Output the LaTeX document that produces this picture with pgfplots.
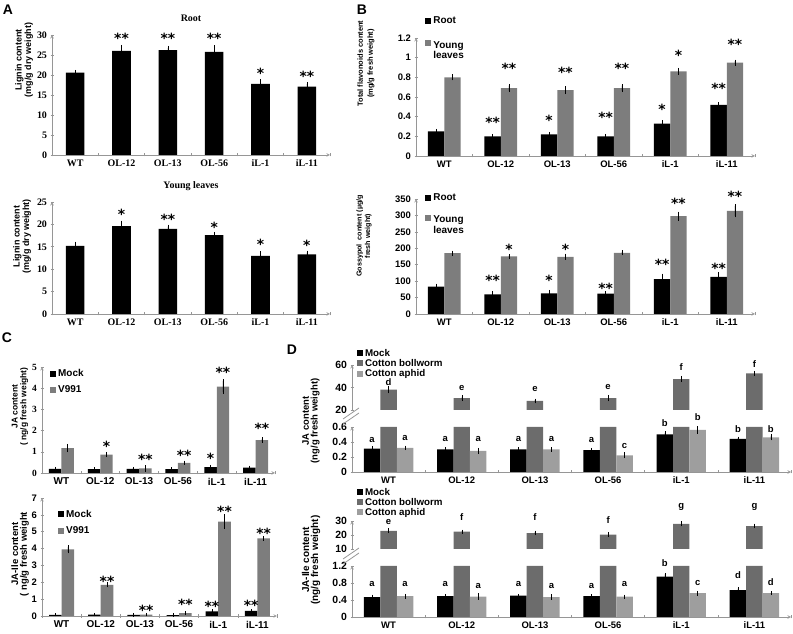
\documentclass[border=0pt]{standalone}
\usepackage{pgfplots}
\pgfplotsset{compat=1.18}
\usepackage{fontspec}
\setmainfont{Liberation Sans}
\newfontfamily\timesf{Liberation Serif}
\newfontfamily\dejaf{DejaVu Sans}
\newcommand\fs[1]{\fontsize{#1}{#1}\selectfont}
\newcommand\starf{\dejaf\bfseries\fontsize{14}{14}\selectfont}
\definecolor{gbar}{RGB}{125,125,125}
\definecolor{dbw}{RGB}{108,108,108}
\definecolor{dap}{RGB}{158,158,158}
\definecolor{axg}{RGB}{150,150,150}
\pgfplotsset{
  common/.style={
    scale only axis, anchor=south west,
    axis line style={draw=axg, line width=0.6pt, -},
    xmin=-0.5, xmax=5.5,
    tick align=outside, major tick length=3bp,
    tick style={draw=axg, line width=0.6pt},
    enlargelimits=false,
    /pgf/number format/assume math mode=true,
    legend image code/.code={\fill[##1] (0bp,-3bp) rectangle (6bp,3bp);},
    legend style={draw=none, fill=none, inner sep=0pt, legend cell align=left,
      column sep=1bp, nodes={inner sep=1bp}},
  },
  excel/.style={common,
    axis x line=bottom, axis y line=left, ymin=0,
    xtick={-0.5,0.5,1.5,2.5,3.5,4.5,5.5}, xticklabels={},
    extra x ticks={0,1,2,3,4,5},
    extra x tick labels={WT,OL-12,OL-13,OL-56,iL-1,iL-11},
    extra x tick style={tick style={draw=none}},
  },
  excelup/.style={common, axis x line=none, axis y line=left},
  overlay/.style={scale only axis, anchor=south west, xmin=-0.5, xmax=5.5,
    enlargelimits=false, hide axis, clip=false},
  bars/.style n args={3}{forget plot, ybar, bar width=#1, bar shift=0pt, fill=#2, draw=none,
     error bars/y dir=both, error bars/y explicit,
     error bars/error bar style={black, line width=0.5pt},
     error bars/error mark options={black, mark size=#3, line width=0.5pt}},
  stars/.style={forget plot, draw=none, mark=none, nodes near coords,
     point meta=explicit symbolic,
     nodes near coords style={anchor=center, font=\starf, inner sep=0pt, yshift=-2bp}},
  letters/.style={forget plot, draw=none, mark=none, nodes near coords,
     point meta=explicit symbolic,
     nodes near coords style={anchor=center, font=\bfseries\fs{9.5}, inner sep=0pt}},
}
\begin{document}
\begin{tikzpicture}
\useasboundingbox (0bp,0bp) rectangle (793bp,634bp);

% ---------------- Panel A top
\begin{axis}[excel, clip=false, at={(52bp,479bp)}, width=278bp, height=120bp,
  ymax=30, ytick={0,5,10,15,20,25,30},
  yticklabel style={font=\timesf\bfseries\fs{10}},
  xticklabel style={font=\timesf\bfseries\fs{10}},
  title={Root}, title style={font=\timesf\bfseries\fs{10}, at={(0.5,1)}, anchor=center, yshift=11bp}]
\addplot[bars={0.4}{black}{2bp}] coordinates {(0,20.6)+-(0,0.2) (1,26.0)+-(0,1.0) (2,26.2)+-(0,0.6) (3,25.8)+-(0,1.1) (4,17.8)+-(0,0.6) (5,17.1)+-(0,0.6)};
\addplot[stars] coordinates {(1,29.7)[**] (2,29.7)[**] (3,29.7)[**] (4,20.9)[*] (5,20.2)[**]};
\end{axis}

% ---------------- Panel A bottom
\begin{axis}[excel, clip=false, at={(52bp,320bp)}, width=278bp, height=112bp,
  ymax=25, ytick={0,5,10,15,20,25},
  yticklabel style={font=\timesf\bfseries\fs{10}},
  xticklabel style={font=\timesf\bfseries\fs{10}},
  title={Young leaves}, title style={font=\timesf\bfseries\fs{10}, at={(0.5,1)}, anchor=center, yshift=10bp}]
\addplot[bars={0.4}{black}{2bp}] coordinates {(0,15.2)+-(0,0.5) (1,19.6)+-(0,0.8) (2,19.0)+-(0,0.5) (3,17.6)+-(0,0.3) (4,13.0)+-(0,0.6) (5,13.3)+-(0,0.4)};
\addplot[stars] coordinates {(1,22.6)[*] (2,21.6)[**] (3,19.9)[*] (4,16.0)[*] (5,15.8)[*]};
\end{axis}

% ---------------- Panel B top
\begin{axis}[excel, clip=false, at={(416bp,478bp)}, width=339bp, height=118bp,
  ymax=1.2, ytick={0,0.2,0.4,0.6,0.8,1,1.2},
  yticklabel style={font=\bfseries\fs{9.5}},
  xticklabel style={font=\bfseries\fs{9.5}},
  legend style={at={(0.027,1.19)}, anchor=north west, font=\bfseries\fs{10}, row sep=14bp}]
\addplot[bars={0.29}{black}{1.5bp}] coordinates {(-0.145,0.25)+-(0,0.01) (0.855,0.20)+-(0,0.01) (1.855,0.22)+-(0,0.01) (2.855,0.20)+-(0,0.01) (3.855,0.33)+-(0,0.02) (4.855,0.52)+-(0,0.01)};
\addplot[bars={0.29}{gbar}{1.5bp}] coordinates {(0.145,0.80)+-(0,0.015) (1.145,0.69)+-(0,0.025) (2.145,0.67)+-(0,0.025) (3.145,0.69)+-(0,0.025) (4.145,0.86)+-(0,0.02) (5.145,0.95)+-(0,0.015)};
\addplot[stars] coordinates {(0.855,0.366)[**] (1.855,0.387)[*] (2.855,0.41)[**] (3.855,0.50)[*] (4.855,0.705)[**]
  (1.145,0.916)[**] (2.145,0.868)[**] (3.145,0.908)[**] (4.145,1.045)[*] (5.145,1.16)[**]};
\addlegendimage{fill=black, draw=none}\addlegendentry{Root}
\addlegendimage{fill=gbar, draw=none, yshift=5bp}\addlegendentry{\begin{tabular}{@{}l@{}}Young\\leaves\end{tabular}}
\end{axis}

% ---------------- Panel B bottom
\begin{axis}[excel, clip=false, at={(416bp,320bp)}, width=339bp, height=115bp,
  ymax=350, ytick={0,50,100,150,200,250,300,350},
  yticklabel style={font=\bfseries\fs{9.5}},
  xticklabel style={font=\bfseries\fs{9.5}},
  legend style={at={(0.027,1.057)}, anchor=north west, font=\bfseries\fs{10}, row sep=12bp}]
\addplot[bars={0.29}{black}{1.5bp}] coordinates {(-0.145,83)+-(0,5) (0.855,60)+-(0,4) (1.855,63)+-(0,6) (2.855,62)+-(0,2) (3.855,106)+-(0,12) (4.855,113)+-(0,10)};
\addplot[bars={0.29}{gbar}{1.5bp}] coordinates {(0.145,185)+-(0,3) (1.145,175)+-(0,3) (2.145,174)+-(0,5) (3.145,186)+-(0,3) (4.145,298)+-(0,9) (5.145,314)+-(0,15)};
\addplot[stars] coordinates {(0.855,108.6)[**] (1.855,108.6)[*] (2.855,85.2)[**] (3.855,157)[**] (4.855,144)[**]
  (1.145,201.8)[*] (2.145,201.8)[*] (4.145,341.8)[**] (5.145,365)[**]};
\addlegendimage{fill=black, draw=none}\addlegendentry{Root}
\addlegendimage{fill=gbar, draw=none, yshift=5bp}\addlegendentry{\begin{tabular}{@{}l@{}}Young\\leaves\end{tabular}}
\end{axis}

% ---------------- Panel C top
\begin{axis}[excel, clip=false, at={(42bp,161bp)}, width=233bp, height=106bp,
  ymax=5, ytick={0,1,2,3,4,5},
  yticklabel style={font=\timesf\bfseries\fs{9.5}},
  xticklabel style={font=\bfseries\fs{10}},
  legend style={at={(0.034,0.99)}, anchor=north west, font=\bfseries\fs{10}, row sep=6bp}]
\addplot[bars={0.32}{black}{1.5bp}] coordinates {(-0.16,0.20)+-(0,0.02) (0.84,0.18)+-(0,0.02) (1.84,0.20)+-(0,0.02) (2.84,0.18)+-(0,0.02) (3.84,0.28)+-(0,0.03) (4.84,0.25)+-(0,0.03)};
\addplot[bars={0.32}{gbar}{1.5bp}] coordinates {(0.16,1.17)+-(0,0.13) (1.16,0.87)+-(0,0.05) (2.16,0.22)+-(0,0.08) (3.16,0.48)+-(0,0.03) (4.16,4.08)+-(0,0.27) (5.16,1.55)+-(0,0.06)};
\addplot[stars] coordinates {(1.16,1.36)[*] (2.16,0.73)[**] (3.16,0.94)[**] (3.84,0.81)[*] (4.16,4.83)[**] (5.16,2.18)[**]};
\addlegendimage{fill=black, draw=none}\addlegendentry{Mock}
\addlegendimage{fill=gbar, draw=none}\addlegendentry{V991}
\end{axis}

% ---------------- Panel C bottom
\begin{axis}[excel, clip=false, at={(42bp,18bp)}, width=235bp, height=118bp,
  ymax=7, ytick={0,1,2,3,4,5,6,7},
  yticklabel style={font=\bfseries\fs{9.5}},
  xticklabel style={font=\bfseries\fs{10}},
  legend style={at={(0.068,0.91)}, anchor=north west, font=\bfseries\fs{10}, row sep=6bp}]
\addplot[bars={0.32}{black}{1.5bp}] coordinates {(-0.16,0.07)+-(0,0.01) (0.84,0.08)+-(0,0.01) (1.84,0.06)+-(0,0.01) (2.84,0.05)+-(0,0.01) (3.84,0.28)+-(0,0.02) (4.84,0.30)+-(0,0.02)};
\addplot[bars={0.32}{gbar}{1.5bp}] coordinates {(0.16,3.95)+-(0,0.15) (1.16,1.85)+-(0,0.07) (2.16,0.08)+-(0,0.02) (3.16,0.17)+-(0,0.03) (4.16,5.6)+-(0,0.35) (5.16,4.6)+-(0,0.05)};
\addplot[stars] coordinates {(1.16,2.15)[**] (2.16,0.48)[**] (3.16,0.83)[**] (3.84,0.72)[**] (4.16,6.3)[**] (4.84,0.76)[**] (5.16,5.03)[**]};
\addlegendimage{fill=black, draw=none}\addlegendentry{Mock}
\addlegendimage{fill=gbar, draw=none}\addlegendentry{V991}
\end{axis}

% ---------------- Panel D top, lower part
\begin{axis}[excel, clip=false, at={(352bp,162bp)}, width=439bp, height=45bp,
  ymax=0.6, ytick={0,0.2,0.4,0.6},
  yticklabel style={font=\bfseries\fs{10.5}},
  xticklabel style={font=\bfseries\fs{9.5}}]
\addplot[bars={0.225}{black}{1.5bp}] coordinates {(-0.225,0.31)+-(0,0.01) (0.775,0.30)+-(0,0.01) (1.775,0.30)+-(0,0.01) (2.775,0.29)+-(0,0.01) (3.775,0.50)+-(0,0.02) (4.775,0.44)+-(0,0.01)};
\addplot[forget plot, ybar, bar width=0.225, bar shift=0pt, fill=dbw, draw=none, restrict y to domain*=0:0.6] coordinates {(0,38) (1,30.5) (2,28) (3,30.5) (4,47.5) (5,52.5)};
\addplot[bars={0.225}{dap}{1.5bp}] coordinates {(0.225,0.32)+-(0,0.01) (1.225,0.28)+-(0,0.02) (2.225,0.30)+-(0,0.01) (3.225,0.22)+-(0,0.02) (4.225,0.56)+-(0,0.03) (5.225,0.46)+-(0,0.02)};
\addplot[letters] coordinates {(-0.225,0.427)[a] (0.775,0.443)[a] (1.775,0.443)[a] (2.775,0.42)[a] (3.775,0.653)[b] (4.775,0.573)[b]
  (0.225,0.457)[a] (1.225,0.443)[a] (2.225,0.443)[a] (3.225,0.343)[c] (4.225,0.733)[b] (5.225,0.573)[b]};
\end{axis}

% ---------------- Panel D top, upper part
\begin{axis}[excelup, at={(352bp,224bp)}, width=439bp, height=45bp,
  ymin=20, ymax=60, ytick={20,40,60},
  yticklabel style={font=\bfseries\fs{10.5}},
  legend style={at={(0.011,1.38)}, anchor=north west, font=\bfseries\fs{9.8}, row sep=-0.5bp}]
\addplot[bars={0.225}{dbw}{1.5bp}] coordinates {(0,38)+-(0,1.8) (1,30.5)+-(0,1.2) (2,28)+-(0,0.8) (3,30.5)+-(0,1.5) (4,47.5)+-(0,1.5) (5,52.5)+-(0,1)};
\addlegendimage{fill=black, draw=none}\addlegendentry{Mock}
\addlegendimage{fill=dbw, draw=none}\addlegendentry{Cotton bollworm}
\addlegendimage{fill=dap, draw=none}\addlegendentry{Cotton aphid}
\end{axis}
\begin{axis}[overlay, at={(352bp,224bp)}, width=439bp, height=45bp, ymin=20, ymax=60]
\addplot[letters] coordinates {(0,45.2)[d] (1,39.7)[e] (2,38.4)[e] (3,40.4)[e] (4,58.2)[f] (5,61.2)[f]};
\end{axis}

% ---------------- Panel D bottom, lower part
\begin{axis}[excel, clip=false, at={(352bp,17bp)}, width=439bp, height=51bp,
  ymax=1.2, ytick={0,0.4,0.8,1.2},
  yticklabel style={font=\bfseries\fs{10.5}},
  xticklabel style={font=\bfseries\fs{9.5}}]
\addplot[bars={0.225}{black}{1.5bp}] coordinates {(-0.225,0.47)+-(0,0.02) (0.775,0.49)+-(0,0.01) (1.775,0.50)+-(0,0.01) (2.775,0.49)+-(0,0.01) (3.775,0.95)+-(0,0.05) (4.775,0.63)+-(0,0.04)};
\addplot[forget plot, ybar, bar width=0.225, bar shift=0pt, fill=dbw, draw=none, restrict y to domain*=0:1.2] coordinates {(0,23) (1,22.4) (2,21.4) (3,20.2) (4,27.9) (5,26.4)};
\addplot[bars={0.225}{dap}{1.5bp}] coordinates {(0.225,0.49)+-(0,0.02) (1.225,0.48)+-(0,0.04) (2.225,0.47)+-(0,0.03) (3.225,0.48)+-(0,0.01) (4.225,0.56)+-(0,0.02) (5.225,0.56)+-(0,0.01)};
\addplot[letters] coordinates {(-0.225,0.77)[a] (0.775,0.78)[a] (1.775,0.78)[a] (2.775,0.725)[a] (3.775,1.26)[b] (4.775,0.99)[d]
  (0.225,0.765)[a] (1.225,0.725)[a] (2.225,0.725)[a] (3.225,0.78)[a] (4.225,0.80)[c] (5.225,0.83)[d]};
\end{axis}

% ---------------- Panel D bottom, upper part
\begin{axis}[excelup, at={(352bp,85bp)}, width=439bp, height=28bp,
  ymin=10, ymax=30, ytick={10,20,30},
  yticklabel style={font=\bfseries\fs{10.5}},
  legend style={at={(0.011,2.22)}, anchor=north west, font=\bfseries\fs{9.8}, row sep=-0.5bp}]
\addplot[bars={0.225}{dbw}{1.5bp}] coordinates {(0,23)+-(0,0.6) (1,22.4)+-(0,0.4) (2,21.4)+-(0,0.6) (3,20.2)+-(0,0.6) (4,27.9)+-(0,0.7) (5,26.4)+-(0,0.6)};
\addlegendimage{fill=black, draw=none}\addlegendentry{Mock}
\addlegendimage{fill=dbw, draw=none}\addlegendentry{Cotton bollworm}
\addlegendimage{fill=dap, draw=none}\addlegendentry{Cotton aphid}
\end{axis}
\begin{axis}[overlay, at={(352bp,85bp)}, width=439bp, height=28bp, ymin=10, ymax=30]
\addplot[letters] coordinates {(0,29.2)[e] (1,33.1)[f] (2,33.1)[f] (3,30.7)[f] (4,40.2)[g] (5,40.2)[g]};
\end{axis}

% axis break marks
\draw[axg, line width=0.8pt] (343bp,215bp) -- (359bp,226bp);
\draw[axg, line width=0.8pt] (343bp,210bp) -- (359bp,221bp);
\draw[axg, line width=0.8pt] (343bp,75bp) -- (359bp,86bp);
\draw[axg, line width=0.8pt] (343bp,70bp) -- (359bp,81bp);

% y-axis labels
\node[rotate=90, align=center, font=\bfseries\fontsize{9}{9.5}\selectfont] at (24bp,574bp) {Lignin content\\(mg/g dry weight)};
\node[rotate=90, align=center, font=\bfseries\fontsize{9}{9.5}\selectfont] at (22bp,397.5bp) {Lignin content\\(mg/g dry weight)};
\node[rotate=90, align=center, font=\bfseries\fontsize{7.5}{10}\selectfont] at (366bp,570.5bp) {Total flavonoids content\\(mg/g fresh weight)};
\node[rotate=90, align=center, font=\bfseries\fontsize{7.2}{8.5}\selectfont] at (364bp,398bp) {Gossypol\ \ content (µg/g\\fresh weight)};
\node[rotate=90, align=center, font=\bfseries\fontsize{8.5}{8.8}\selectfont] at (20bp,227.5bp) {JA content\\( ng/g fresh weight)};
\node[rotate=90, align=center, font=\bfseries\fontsize{9.5}{8.8}\selectfont] at (20bp,80bp) {JA-Ile content\\( ng/g fresh weight};
\node[rotate=90, align=center, font=\bfseries\fontsize{9.5}{9}\selectfont] at (311bp,213bp) {JA content\\(ng/g fresh weight)};
\node[rotate=90, align=center, font=\bfseries\fontsize{10}{9}\selectfont] at (311bp,74bp) {JA-Ile content\\(ng/g fresh weight)};

% panel letters
\node[font=\bfseries\fs{14}] at (8bp,624bp) {A};
\node[font=\bfseries\fs{14}] at (362bp,624bp) {B};
\node[font=\bfseries\fs{14}] at (7bp,296.5bp) {C};
\node[font=\bfseries\fs{14}] at (292bp,284bp) {D};
\end{tikzpicture}
\end{document}
